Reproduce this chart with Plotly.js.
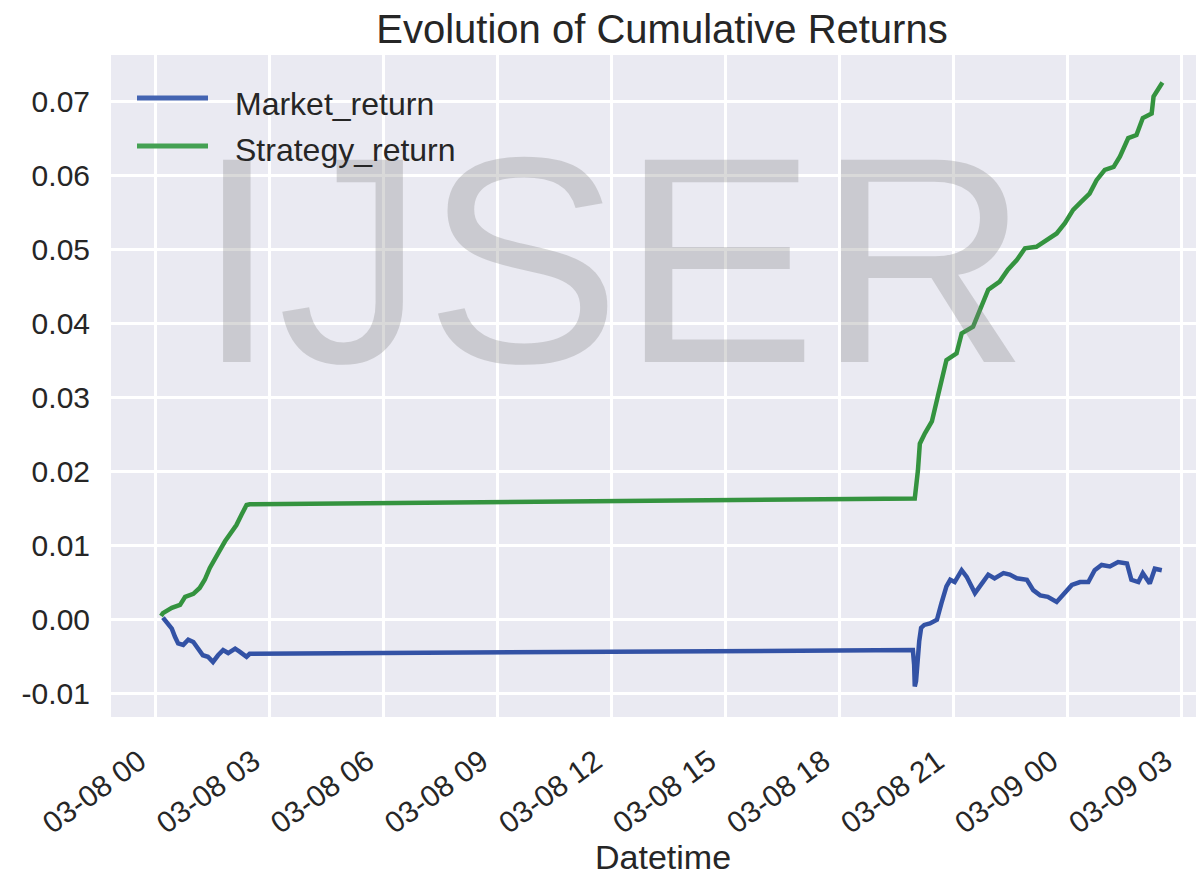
<!DOCTYPE html>
<html>
<head>
<meta charset="utf-8">
<script src="https://cdn.plot.ly/plotly-3.0.1.min.js"></script>
<style>html,body{margin:0;padding:0;background:#fff;}#chart{width:1200px;height:878px;}</style>
</head>
<body>
<div id="chart"></div>
<script>
// ---- data ----
const seriesNames = ['Market_return', 'Strategy_return'];

const marketTime = [
  '2020-03-08 00:12','2020-03-08 00:20','2020-03-08 00:26','2020-03-08 00:31','2020-03-08 00:36',
  '2020-03-08 00:44','2020-03-08 00:52','2020-03-08 01:00','2020-03-08 01:08','2020-03-08 01:15',
  '2020-03-08 01:23','2020-03-08 01:31','2020-03-08 01:39','2020-03-08 01:47','2020-03-08 01:55',
  '2020-03-08 02:06','2020-03-08 02:13','2020-03-08 02:24','2020-03-08 02:29',
  '2020-03-08 19:56','2020-03-08 19:58','2020-03-08 19:59','2020-03-08 20:01','2020-03-08 20:03',
  '2020-03-08 20:06','2020-03-08 20:09','2020-03-08 20:14','2020-03-08 20:23','2020-03-08 20:34',
  '2020-03-08 20:41','2020-03-08 20:49','2020-03-08 20:55','2020-03-08 21:02','2020-03-08 21:13',
  '2020-03-08 21:21','2020-03-08 21:34','2020-03-08 21:44','2020-03-08 21:55','2020-03-08 22:05',
  '2020-03-08 22:19','2020-03-08 22:29','2020-03-08 22:40','2020-03-08 22:56','2020-03-08 23:06',
  '2020-03-08 23:17','2020-03-08 23:29','2020-03-08 23:43','2020-03-08 23:53','2020-03-09 00:07',
  '2020-03-09 00:20','2020-03-09 00:33','2020-03-09 00:43','2020-03-09 00:54','2020-03-09 01:07',
  '2020-03-09 01:20','2020-03-09 01:34','2020-03-09 01:41','2020-03-09 01:52','2020-03-09 01:59',
  '2020-03-09 02:10','2020-03-09 02:18','2020-03-09 02:29'
];
const marketValue = [
  0.0002,-0.0006,-0.0013,-0.0024,-0.0033,
  -0.0035,-0.0028,-0.0031,-0.0042,-0.0049,
  -0.0051,-0.0058,-0.0049,-0.0042,-0.0046,
  -0.0040,-0.0044,-0.0051,-0.0047,
  -0.0042,-0.0062,-0.0091,-0.0084,-0.0058,
  -0.0030,-0.0012,-0.0008,-0.0006,-0.0001,
  0.0021,0.0044,0.0053,0.0050,0.0066,
  0.0057,0.0035,0.0046,0.0060,0.0055,
  0.0062,0.0060,0.0055,0.0053,0.0039,
  0.0032,0.0030,0.0023,0.0032,0.0046,
  0.0050,0.0050,0.0066,0.0073,0.0071,
  0.0077,0.0075,0.0053,0.0050,0.0062,
  0.0048,0.0068,0.0066
];

const strategyTime = [
  '2020-03-08 00:09','2020-03-08 00:12','2020-03-08 00:26','2020-03-08 00:39','2020-03-08 00:47',
  '2020-03-08 01:00','2020-03-08 01:10','2020-03-08 01:18','2020-03-08 01:26','2020-03-08 01:34',
  '2020-03-08 01:42','2020-03-08 01:50','2020-03-08 02:00','2020-03-08 02:08','2020-03-08 02:16',
  '2020-03-08 02:24','2020-03-08 02:29',
  '2020-03-08 19:59','2020-03-08 20:04','2020-03-08 20:07','2020-03-08 20:15','2020-03-08 20:26',
  '2020-03-08 20:34','2020-03-08 20:41','2020-03-08 20:49','2020-03-08 21:05','2020-03-08 21:13',
  '2020-03-08 21:31','2020-03-08 21:42','2020-03-08 21:55','2020-03-08 22:13','2020-03-08 22:26',
  '2020-03-08 22:40','2020-03-08 22:53','2020-03-08 23:11','2020-03-08 23:27','2020-03-08 23:43',
  '2020-03-08 23:56','2020-03-09 00:09','2020-03-09 00:22','2020-03-09 00:35','2020-03-09 00:46',
  '2020-03-09 00:59','2020-03-09 01:13','2020-03-09 01:23','2020-03-09 01:36','2020-03-09 01:49',
  '2020-03-09 01:59','2020-03-09 02:13','2020-03-09 02:16','2020-03-09 02:26','2020-03-09 02:30'
];
const strategyValue = [
  0.0004,0.0008,0.0015,0.0019,0.0030,
  0.0034,0.0042,0.0053,0.0069,0.0080,
  0.0093,0.0105,0.0116,0.0127,0.0141,
  0.0154,0.0155,
  0.0163,0.0201,0.0237,0.0251,0.0267,
  0.0296,0.0323,0.0350,0.0359,0.0386,
  0.0395,0.0418,0.0445,0.0456,0.0472,
  0.0485,0.0501,0.0503,0.0512,0.0521,
  0.0535,0.0553,0.0564,0.0575,0.0593,
  0.0607,0.0611,0.0625,0.0650,0.0654,
  0.0677,0.0683,0.0706,0.0719,0.0725
];

const yTickValues = [-0.01, 0.00, 0.01, 0.02, 0.03, 0.04, 0.05, 0.06, 0.07];
const yTickLabels = ['-0.01','0.00','0.01','0.02','0.03','0.04','0.05','0.06','0.07'];

const chartTitle = 'Evolution of Cumulative Returns';
const xAxisLabel = 'Datetime';
const watermarkText = 'IJSER';

// ---- styling ----
const FONT = '"Liberation Sans", Arial, "DejaVu Sans", sans-serif';
const TXT = '#262626';
const lineColors = ['#3352A5', '#34933F'];
const legendColors = ['#4464B2', '#44A153'];

const traces = [
  {x: marketTime, y: marketValue, name: seriesNames[0], type: 'scatter', mode: 'lines',
   line: {color: lineColors[0], width: 4.5}, showlegend: false},
  {x: strategyTime, y: strategyValue, name: seriesNames[1], type: 'scatter', mode: 'lines',
   line: {color: lineColors[1], width: 4.5}, showlegend: false}
];

const L = 111, R = 1196, T = 55, B = 717;
const px = v => (v - L) / (R - L);
const py = v => (B - v) / (B - T);

const layout = {
  width: 1200, height: 878,
  margin: {l: L, r: 1200 - R, t: T, b: 878 - B},
  paper_bgcolor: '#ffffff',
  plot_bgcolor: '#EAEAF2',
  font: {family: FONT, color: TXT},
  title: {text: chartTitle, font: {size: 40, color: TXT, family: FONT},
          x: 662/1200, xanchor: 'center', xref: 'container', y: 1 - 29/878, yanchor: 'middle', yref: 'container'},
  xaxis: {
    type: 'date',
    range: ['2020-03-07 22:50', '2020-03-09 03:23'],
    tick0: '2020-03-08 00:00', dtick: 3*3600*1000,
    tickformat: '%m-%d %H',
    tickangle: -36,
    tickfont: {size: 30, color: TXT, family: FONT},
    showgrid: true, gridcolor: '#ffffff', gridwidth: 3,
    zeroline: false, showline: false, ticks: '',
    ticklabelstandoff: 20,
    ticklabelshift: -16,
    automargin: false
  },
  yaxis: {
    range: [-0.01324, 0.07622],
    tickvals: yTickValues, ticktext: yTickLabels,
    tickfont: {size: 30, color: TXT, family: FONT},
    showgrid: true, gridcolor: '#ffffff', gridwidth: 3,
    zeroline: false, showline: false, ticks: '',
    ticklabelstandoff: 20,
    automargin: false
  },
  shapes: [
    {type: 'line', xref: 'paper', yref: 'paper', x0: px(137), x1: px(208), y0: py(98), y1: py(98),
     line: {color: legendColors[0], width: 5}},
    {type: 'line', xref: 'paper', yref: 'paper', x0: px(137), x1: px(208), y0: py(146), y1: py(146),
     line: {color: legendColors[1], width: 5}}
  ],
  annotations: [
    {text: watermarkText, xref: 'paper', yref: 'paper', x: px(612), y: py(260), xanchor: 'center', yanchor: 'middle',
     showarrow: false, font: {size: 294, color: 'rgba(128,128,128,0.3)', family: FONT}},
    {text: seriesNames[0], xref: 'paper', yref: 'paper', x: px(233), y: py(104), xanchor: 'left', yanchor: 'middle',
     showarrow: false, font: {size: 32, color: TXT, family: FONT}},
    {text: seriesNames[1], xref: 'paper', yref: 'paper', x: px(233), y: py(150), xanchor: 'left', yanchor: 'middle',
     showarrow: false, font: {size: 32, color: TXT, family: FONT}},
    {text: xAxisLabel, xref: 'paper', yref: 'paper', x: px(663), y: py(857), xanchor: 'center', yanchor: 'middle',
     showarrow: false, font: {size: 34, color: TXT, family: FONT}}
  ]
};

Plotly.newPlot('chart', traces, layout, {displayModeBar: false, staticPlot: true});
</script>
</body>
</html>
